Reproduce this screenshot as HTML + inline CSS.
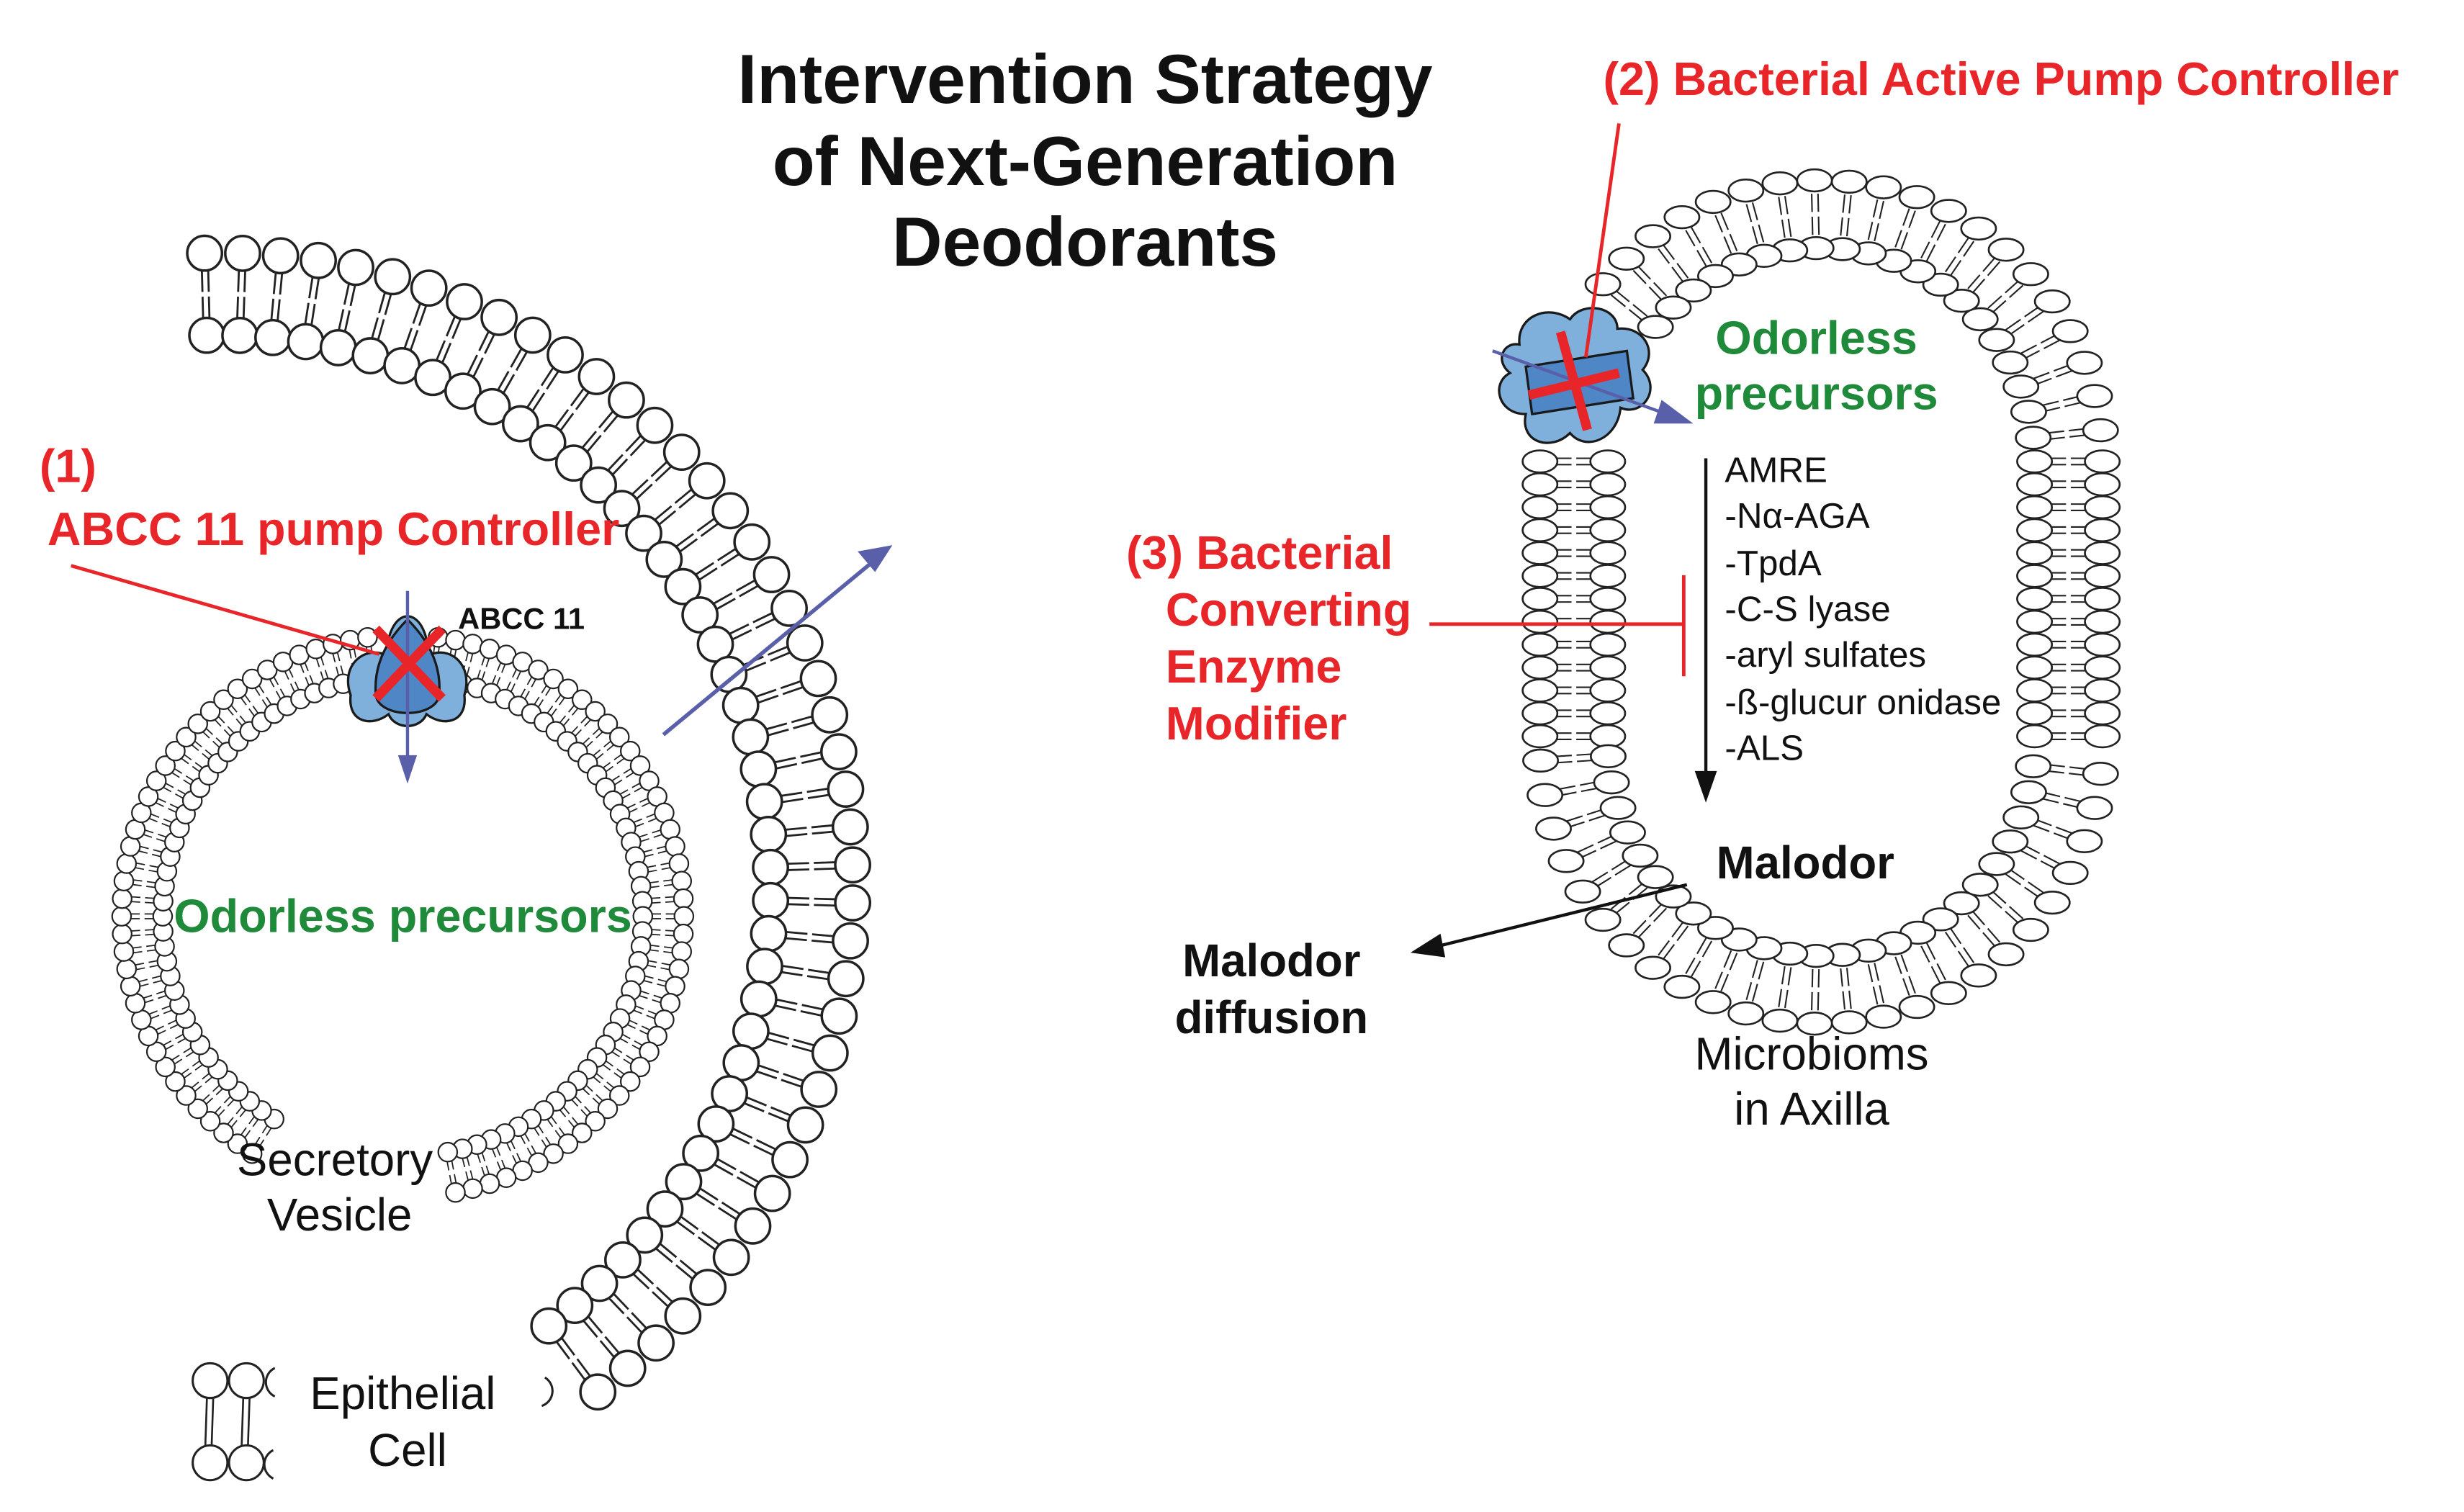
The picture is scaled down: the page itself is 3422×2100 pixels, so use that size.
<!DOCTYPE html>
<html><head><meta charset="utf-8"><style>
html,body{margin:0;padding:0;background:#fff;}
svg{display:block;}
text{font-family:"Liberation Sans",sans-serif;}
</style></head><body>
<svg id="s" width="3422" height="2100" viewBox="0 0 1560 957" xmlns="http://www.w3.org/2000/svg">
<rect width="1560" height="957" fill="#fff"/>
<g id="lip" fill="#fff" stroke="#222"></g>
<!-- ABCC11 protein -->
<g stroke="#1a1a1a" stroke-width="1.5">
<path d="M222,440 C215,420 232,408 245,415 C245,398 252,390 258,390 C264,390 271,398 271,415 C284,408 300,420 294,440 C296,458 280,460 270,452 C266,462 250,462 246,452 C236,460 220,458 222,440 Z" fill="#7fb0dc"/>
<path d="M238,440 C236,418 248,402 258,392 C268,402 280,418 278,440 C276,455 240,455 238,440 Z" fill="#4f86c6"/>
</g>
<line x1="258" y1="374" x2="258" y2="480" stroke="#5a5faa" stroke-width="2"/>
<polygon points="252,478 264,478 258,496" fill="#5a5faa"/>
<line x1="45" y1="358" x2="240" y2="414" stroke="#e8262a" stroke-width="2.2"/>
<g stroke="#e8262a" stroke-width="6"><line x1="238" y1="398" x2="280" y2="442"/><line x1="280" y1="398" x2="238" y2="442"/></g>
<text x="290" y="398" font-size="19" font-weight="bold" fill="#111">ABCC 11</text>
<line x1="420" y1="465" x2="552" y2="356" stroke="#5a5faa" stroke-width="2.5"/>
<polygon points="565,345 543,349 554,362" fill="#5a5faa"/>
<!-- right protein -->
<g stroke="#1a1a1a" stroke-width="1.5">
<path d="M962,218 C960,200 980,192 994,202 C1002,190 1024,194 1024,208 C1040,206 1050,222 1040,234 C1052,246 1040,264 1026,258 C1024,278 1004,286 994,274 C982,286 962,280 966,262 C948,262 944,242 956,236 C946,228 952,216 962,218 Z" fill="#7fb0dc"/>
<path d="M966,232 L1030,222 L1034,252 L970,262 Z" fill="#4f86c6"/>
</g>
<line x1="945" y1="222" x2="1055" y2="262" stroke="#5a5faa" stroke-width="2"/>
<polygon points="1072,268 1052,253 1047,268" fill="#5a5faa"/>
<line x1="1025" y1="78" x2="1004" y2="226" stroke="#e8262a" stroke-width="2.2"/>
<g stroke="#e8262a" stroke-width="6"><line x1="988" y1="210" x2="1005" y2="272"/><line x1="968" y1="250" x2="1025" y2="236"/></g>
<line x1="1080" y1="290" x2="1080" y2="490" stroke="#111" stroke-width="2"/>
<polygon points="1073,488 1087,488 1080,508" fill="#111"/>
<line x1="905" y1="395" x2="1066" y2="395" stroke="#e8262a" stroke-width="2.2"/>
<line x1="1066" y1="364" x2="1066" y2="428" stroke="#e8262a" stroke-width="2.2"/>
<line x1="1068" y1="560" x2="910" y2="599" stroke="#111" stroke-width="2"/>
<polygon points="893,603 912,591 915,606" fill="#111"/>
<!-- legend lipids -->
<g fill="#fff" stroke="#222" stroke-width="1.4">
<circle cx="133" cy="874" r="11"/><circle cx="156" cy="874" r="11"/>
<circle cx="133" cy="926" r="11"/><circle cx="156" cy="926" r="11"/>
<path d="M174,866 A10,10 0 0 0 174,884"/><path d="M173,918 A10,10 0 0 0 173,936"/>
<path d="M131,885 L130,915 M135,885 L134,915 M154,885 L153,915 M158,885 L157,915" stroke-width="1.2"/>
<path d="M345,872 A10,10 0 0 1 343,890"/>
</g>
<g font-weight="bold" fill="#111" font-size="44" text-anchor="middle">
<text x="687" y="65">Intervention Strategy</text>
<text x="687" y="117">of Next-Generation</text>
<text x="687" y="168">Deodorants</text>
</g>
<g font-weight="bold" fill="#e8262a" font-size="29.5">
<text x="25" y="305">(1)</text>
<text x="30" y="345">ABCC 11 pump Controller</text>
<text x="1015" y="60">(2) Bacterial Active Pump Controller</text>
<text x="713" y="360">(3) Bacterial</text>
<text x="738" y="396">Converting</text>
<text x="738" y="432">Enzyme</text>
<text x="738" y="468">Modifier</text>
</g>
<g font-weight="bold" fill="#1e8a3a" font-size="29.5">
<text x="110" y="590">Odorless precursors</text>
<text x="1150" y="224" text-anchor="middle">Odorless</text>
<text x="1150" y="259" text-anchor="middle">precursors</text>
</g>
<g fill="#111" font-size="22.5">
<text x="1092" y="305">AMRE</text>
<text x="1092" y="334">-Nα-AGA</text>
<text x="1092" y="364">-TpdA</text>
<text x="1092" y="393">-C-S lyase</text>
<text x="1092" y="422">-aryl sulfates</text>
<text x="1092" y="452">-ß-glucur onidase</text>
<text x="1092" y="481">-ALS</text>
</g>
<g fill="#111" font-size="29" text-anchor="middle">
<text x="1143" y="556" font-weight="bold">Malodor</text>
<text x="805" y="618" font-weight="bold">Malodor</text>
<text x="805" y="654" font-weight="bold">diffusion</text>
<text x="1147" y="677">Microbioms</text>
<text x="1147" y="712">in Axilla</text>
<text x="212" y="744">Secretory</text>
<text x="215" y="779">Vesicle</text>
<text x="255" y="892">Epithelial</text>
<text x="258" y="928">Cell</text>
</g>
</svg>
<script>
(function(){
var NS="http://www.w3.org/2000/svg",g=document.getElementById("lip");
function el(n,a){var e=document.createElementNS(NS,n);for(var k in a)e.setAttribute(k,a[k]);g.appendChild(e);return e;}
function pair(x1,y1,x2,y2,rh,sw,ell,ry){
 var dx=x2-x1,dy=y2-y1,L=Math.hypot(dx,dy),ux=dx/L,uy=dy/L,px=-uy,py=ux,o=Math.min(rh,8)*0.25;
 var a=ell?Math.min(rh,ry*1.2):rh,b=L-a;
 [o,-o].forEach(function(s){
  el("line",{x1:x1+ux*a+px*s,y1:y1+uy*a+py*s,x2:x1+ux*(L/2-1.5)+px*s,y2:y1+uy*(L/2-1.5)+py*s,"stroke-width":sw*0.8});
  el("line",{x1:x1+ux*(L/2+1.5)+px*s,y1:y1+uy*(L/2+1.5)+py*s,x2:x1+ux*b+px*s,y2:y1+uy*b+py*s,"stroke-width":sw*0.8});
 });
 if(ell){
  el("ellipse",{cx:x1,cy:y1,rx:rh,ry:ry,"stroke-width":sw});
  el("ellipse",{cx:x2,cy:y2,rx:rh,ry:ry,"stroke-width":sw});
 }else{
  el("circle",{cx:x1,cy:y1,r:rh,"stroke-width":sw});
  el("circle",{cx:x2,cy:y2,r:rh,"stroke-width":sw});
 }
}
var cx=140,cy=560;
for(var a=-91.5;a<=55;a+=3.45){
 var t=a*Math.PI/180,c=Math.cos(t),s=Math.sin(t);
 pair(cx+400*c,cy+400*s,cx+348*c,cy+348*s,11,1.6,false);
}
cx=255;cy=580;
for(var a=0;a<360;a+=3.6){
 var aa=(a+270)%360;
 if(aa>80&&aa<122)continue;
 if(aa>263&&aa<277)continue;
 var t=aa*Math.PI/180,c=Math.cos(t),s=Math.sin(t);
 pair(cx+178*c,cy+178*s,cx+152*c,cy+152*s,6,1,false);
}
var X=1153,W=156,Yt=292,Yb=470,off=22;
function put(x,y,nx,ny){
 if(Math.hypot(x-998,y-240)<52)return;
 pair(x+nx*off,y+ny*off,x-nx*off*0.95,y-ny*off*0.95,11,1.2,true,7);
}
for(var y=Yt;y<=Yb;y+=14.5){put(X+W,y,1,0);put(X-W,y,-1,0);}
var da=22/(W+off);
for(var t=da*0.9;t<Math.PI-da/2;t+=da){
 var nx=Math.cos(t),ny=Math.sin(t);
 put(X+W*nx,Yb+W*ny,nx,ny);
 put(X+W*nx,Yt-W*ny,nx,-ny);
}
})();
</script>
</body></html>
